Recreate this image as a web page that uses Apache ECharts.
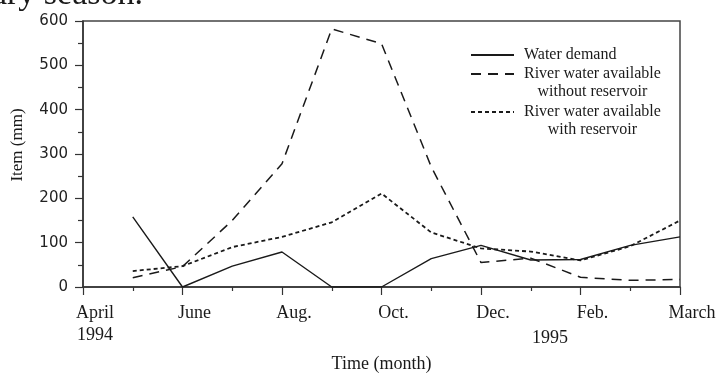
<!DOCTYPE html>
<html>
<head>
<meta charset="utf-8">
<script src="https://cdn.jsdelivr.net/npm/echarts@6/dist/echarts.min.js"></script>
<style>
  html, body { margin: 0; padding: 0; background: #fff; }
  #chart { width: 720px; height: 373px; }
</style>
</head>
<body>
<div id="chart"></div>
<script>
// Month positions: 0 = April 1994 ... 12 = March 1995
const monthPos = [1, 2, 3, 4, 5, 6, 7, 8, 9, 10, 11, 12];
const tickLabels = { 0: 'April\n1994', 2: 'June', 4: 'Aug.', 6: 'Oct.', 8: 'Dec.', 10: 'Feb.', 12: 'March' };

// Monthly values (mm)
const waterDemand      = [158, 0, 47, 79, 0, 0, 64, 94, 61, 62, 94, 113];
const withoutReservoir = [21, 46, 150, 278, 582, 549, 271, 55, 65, 22, 15, 17];
const withReservoir    = [36, 47, 90, 113, 146, 211, 123, 87, 80, 60, 92, 150];

const seriesNames = [
  'Water demand',
  'River water available\nwithout reservoir',
  'River water available\nwith reservoir'
];

const serif = '"Liberation Serif", "Times New Roman", serif';
const ink = '#1a1a1a';

function pairs(vals) {
  return monthPos.map((m, i) => [m, vals[i]]);
}

// One legend block per series; two-line names get a blank leading line so the
// sample line sits level with the first line of text.
function legendBlock(name, top) {
  return {
    orient: 'vertical',
    left: 465,
    top: top,
    itemWidth: 43,
    itemHeight: 14,
    selectedMode: false,
    itemStyle: { opacity: 0 },
    data: [name],
    formatter: n => {
      const lines = n.split('\n').map(s => '{c|' + s + '}');
      if (lines.length > 1) lines.unshift('{c| }');
      return lines.join('\n');
    },
    textStyle: {
      fontFamily: serif, fontSize: 16, color: ink,
      rich: {
        c: { align: 'center', fontFamily: serif, fontSize: 16, lineHeight: 18, color: ink, padding: [0, 0, 0, 5] }
      }
    }
  };
}

const chart = echarts.init(document.getElementById('chart'), null, { renderer: 'canvas' });

chart.setOption({
  animation: false,
  backgroundColor: '#fff',
  grid: {
    left: 83, right: 40, top: 21, bottom: 86,
    show: true, borderColor: '#444', borderWidth: 1.5,
    outerBoundsMode: 'none'
  },
  legend: [
    legendBlock(seriesNames[0], 42),
    legendBlock(seriesNames[1], 43),
    legendBlock(seriesNames[2], 81)
  ],
  xAxis: {
    type: 'value',
    min: 0, max: 12, interval: 2,
    axisLine: { show: true, lineStyle: { color: '#333', width: 1.5 } },
    axisTick: { show: true, length: 8, lineStyle: { color: '#333', width: 1.2 } },
    minorTick: { show: true, splitNumber: 2, length: 4, lineStyle: { color: '#333', width: 1.2 } },
    splitLine: { show: false },
    minorSplitLine: { show: false },
    axisLabel: {
      formatter: v => tickLabels[v] || '',
      fontFamily: serif, fontSize: 18, lineHeight: 22, color: ink,
      margin: 15, padding: [0, 0, 0, 24]
    },
    name: 'Time (month)',
    nameLocation: 'middle',
    nameGap: 68,
    nameTextStyle: { fontFamily: serif, fontSize: 18, color: ink }
  },
  yAxis: {
    type: 'value',
    min: 0, max: 600, interval: 100,
    axisLine: { show: true, lineStyle: { color: '#333', width: 1.5 } },
    axisTick: { show: true, length: 8, lineStyle: { color: '#333', width: 1.2 } },
    minorTick: { show: true, splitNumber: 2, length: 5, lineStyle: { color: '#333', width: 1.2 } },
    splitLine: { show: false },
    minorSplitLine: { show: false },
    axisLabel: { fontFamily: '"DejaVu Sans", sans-serif', fontSize: 15, color: '#222', margin: 15 },
    name: 'Item (mm)',
    nameLocation: 'middle',
    nameRotate: 90,
    nameGap: 57,
    nameTextStyle: { fontFamily: serif, fontSize: 17, color: ink, padding: [0, 0, 0, 18] }
  },
  series: [
    {
      name: seriesNames[0], type: 'line', data: pairs(waterDemand),
      symbol: 'none', silent: true,
      itemStyle: { color: ink },
      lineStyle: { color: ink, width: 1.4, type: 'solid' }
    },
    {
      name: seriesNames[1], type: 'line', data: pairs(withoutReservoir),
      symbol: 'none', silent: true,
      itemStyle: { color: ink },
      lineStyle: { color: ink, width: 1.5, type: [10, 7] }
    },
    {
      name: seriesNames[2], type: 'line', data: pairs(withReservoir),
      symbol: 'none', silent: true,
      itemStyle: { color: ink },
      lineStyle: { color: ink, width: 1.8, type: [4, 3] }
    }
  ],
  graphic: [
    {
      type: 'text', silent: true,
      style: { x: 550, y: 338, text: '1995', font: '18px ' + serif, fill: ink, align: 'center', verticalAlign: 'middle' }
    },
    {
      type: 'text', silent: true,
      style: { x: 143, y: 12, text: 'dry season.', font: '34px ' + serif, fill: ink, align: 'right', verticalAlign: 'bottom' }
    }
  ]
});
</script>
</body>
</html>
